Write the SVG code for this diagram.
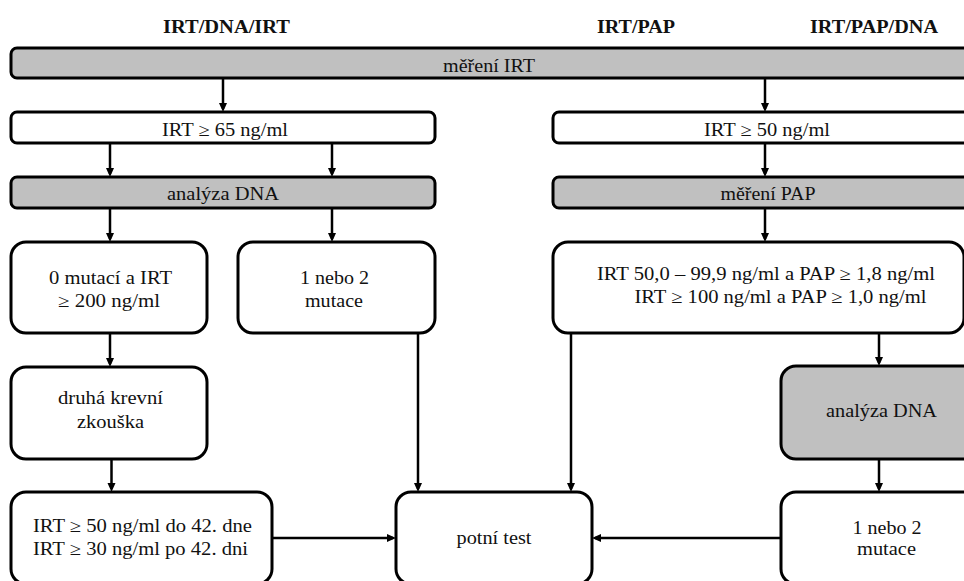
<svg xmlns="http://www.w3.org/2000/svg" width="964" height="581" viewBox="0 0 964 581">
<style>
.box{fill:#fff;stroke:#000;stroke-width:3}
.gray{fill:#c0c0c0;stroke:#000;stroke-width:3}
.t{font-family:"Liberation Serif","Times New Roman",serif;font-size:18px;fill:#111;text-anchor:middle}
.s{text-anchor:start}
.h{font-weight:bold}
.c{stroke:#000;stroke-width:2.5;fill:none;marker-end:url(#ah)}
</style>
<defs>
<marker id="ah" markerUnits="userSpaceOnUse" markerWidth="10" markerHeight="9" refX="6" refY="4" orient="auto">
<path d="M0,0 L9,4 L0,8 z" fill="#000"/>
</marker>
</defs>
<rect width="964" height="581" fill="#fff"/>
<g id="titles">
<text class="t h" x="226.5" y="33" textLength="127" lengthAdjust="spacingAndGlyphs">IRT/DNA/IRT</text>
<text class="t h" x="636" y="33" textLength="78" lengthAdjust="spacingAndGlyphs">IRT/PAP</text>
<text class="t h" x="874" y="33" textLength="128" lengthAdjust="spacingAndGlyphs">IRT/PAP/DNA</text>
</g>
<g id="connectors">
<line class="c" x1="223" y1="78" x2="223" y2="109"/>
<line class="c" x1="765" y1="78" x2="765" y2="109"/>
<line class="c" x1="110" y1="143" x2="110" y2="174"/>
<line class="c" x1="332" y1="143" x2="332" y2="174"/>
<line class="c" x1="765" y1="143" x2="765" y2="174"/>
<line class="c" x1="110" y1="208" x2="110" y2="239"/>
<line class="c" x1="332" y1="208" x2="332" y2="239"/>
<line class="c" x1="765" y1="208" x2="765" y2="239"/>
<line class="c" x1="110" y1="333" x2="110" y2="364"/>
<line class="c" x1="111.5" y1="459" x2="111.5" y2="489"/>
<line class="c" x1="418" y1="333" x2="418" y2="489"/>
<line class="c" x1="571" y1="333" x2="571" y2="489"/>
<line class="c" x1="879" y1="333" x2="879" y2="363"/>
<line class="c" x1="879" y1="459" x2="879" y2="489"/>
<line class="c" x1="272" y1="538" x2="393" y2="538"/>
<line class="c" x1="781" y1="538" x2="595" y2="538"/>
</g>
<g id="n-mereni-irt">
<rect class="gray" x="11" y="48" width="980" height="30" rx="6"/>
<text class="t" x="489" y="71.5" textLength="92" lengthAdjust="spacingAndGlyphs">měření IRT</text>
</g>
<g id="n-irt65">
<rect class="box" x="11" y="112" width="424" height="31" rx="6"/>
<text class="t" x="225" y="136" textLength="126" lengthAdjust="spacingAndGlyphs">IRT ≥ 65 ng/ml</text>
</g>
<g id="n-dna-left">
<rect class="gray" x="11" y="177" width="424" height="31" rx="6"/>
<text class="t" x="223" y="200" textLength="112" lengthAdjust="spacingAndGlyphs">analýza DNA</text>
</g>
<g id="n-irt50">
<rect class="box" x="553" y="112" width="430" height="31" rx="6"/>
<text class="t" x="767" y="136" textLength="126" lengthAdjust="spacingAndGlyphs">IRT ≥ 50 ng/ml</text>
</g>
<g id="n-mereni-pap">
<rect class="gray" x="553" y="177" width="430" height="31" rx="6"/>
<text class="t" x="768" y="200" textLength="95" lengthAdjust="spacingAndGlyphs">měření PAP</text>
</g>
<g id="n-0mutaci">
<rect class="box" x="11" y="242" width="196" height="91" rx="15"/>
<text class="t" x="110.5" y="283.5" textLength="123" lengthAdjust="spacingAndGlyphs">0 mutací a IRT</text>
<text class="t" x="109" y="306.5" textLength="102" lengthAdjust="spacingAndGlyphs">≥ 200 ng/ml</text>
</g>
<g id="n-mutace-left">
<rect class="box" x="238" y="242" width="197" height="91" rx="15"/>
<text class="t" x="334.5" y="283.5" textLength="69" lengthAdjust="spacingAndGlyphs">1 nebo 2</text>
<text class="t" x="334" y="306.5" textLength="58" lengthAdjust="spacingAndGlyphs">mutace</text>
</g>
<g id="n-pap-criteria">
<rect class="box" x="553" y="242" width="411" height="91" rx="15"/>
<text class="t s" x="597" y="279.5" textLength="338" lengthAdjust="spacingAndGlyphs">IRT 50,0 – 99,9 ng/ml a PAP ≥ 1,8 ng/ml</text>
<text class="t s" x="634.5" y="302.5" textLength="292" lengthAdjust="spacingAndGlyphs">IRT ≥ 100 ng/ml a PAP ≥ 1,0 ng/ml</text>
</g>
<g id="n-druha">
<rect class="box" x="11" y="367" width="196" height="92" rx="15"/>
<text class="t" x="110.5" y="404" textLength="105" lengthAdjust="spacingAndGlyphs">druhá krevní</text>
<text class="t" x="110.5" y="427.5" textLength="67" lengthAdjust="spacingAndGlyphs">zkouška</text>
</g>
<g id="n-dna-right">
<rect class="gray" x="781" y="366" width="210" height="93" rx="15"/>
<text class="t" x="881.5" y="416.5" textLength="111" lengthAdjust="spacingAndGlyphs">analýza DNA</text>
</g>
<g id="n-irt-second">
<rect class="box" x="11" y="492" width="261" height="92" rx="15"/>
<text class="t s" x="33" y="531.5" textLength="219" lengthAdjust="spacingAndGlyphs">IRT ≥ 50 ng/ml do 42. dne</text>
<text class="t s" x="33" y="555" textLength="215" lengthAdjust="spacingAndGlyphs">IRT ≥ 30 ng/ml po 42. dni</text>
</g>
<g id="n-potni-test">
<rect class="box" x="396" y="492" width="196" height="92" rx="15"/>
<text class="t" x="494" y="543.5" textLength="75" lengthAdjust="spacingAndGlyphs">potní test</text>
</g>
<g id="n-mutace-right">
<rect class="box" x="781" y="492" width="210" height="92" rx="15"/>
<text class="t" x="887" y="533.5" textLength="69" lengthAdjust="spacingAndGlyphs">1 nebo 2</text>
<text class="t" x="886.5" y="555" textLength="59" lengthAdjust="spacingAndGlyphs">mutace</text>
</g>
</svg>
